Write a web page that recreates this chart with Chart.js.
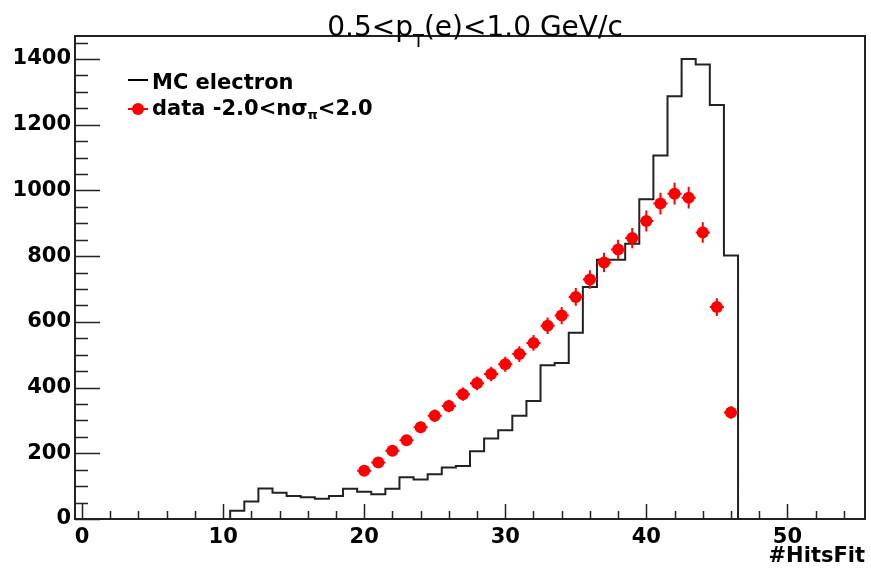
<!DOCTYPE html>
<html>
<head>
<meta charset="utf-8">
<title>nHitsFit</title>
<script src="https://cdn.jsdelivr.net/npm/chart.js@4.4.1/dist/chart.umd.min.js"></script>
<style>
  html, body { margin: 0; padding: 0; background: #fff; }
  canvas { display: block; }
</style>
</head>
<body>
<canvas id="hitsChart" width="871" height="570"></canvas>
<script>
// MC electron histogram, one value per bin (bins of width 1 centred on integers)
const mcFirstBin = 11;
const mcCounts = [25, 53, 93, 80, 70, 66, 62, 70, 92, 83, 75, 92, 127, 120, 136, 157, 161, 206,
                  245, 270, 314, 359, 468, 475, 567, 706, 789, 789, 838, 973, 1106, 1287, 1400, 1383, 1260, 802];

// data points -2.0 < n sigma_pi < 2.0
const dataHits = [20, 21, 22, 23, 24, 25, 26, 27, 28, 29, 30, 31, 32, 33, 34, 35, 36, 37, 38, 39, 40, 41, 42, 43, 44, 45, 46];
const dataCounts = [147, 172, 208, 240, 279, 314, 344, 380, 413, 441, 471, 502, 536, 588, 619, 676, 729,
                    781, 820, 855, 907, 960, 990, 978, 872, 645, 324];
const dataErrors = [13, 14, 15, 16, 18, 19, 19, 20, 21, 22, 23, 24, 24, 25, 26, 27, 28, 29, 30, 31, 32, 33, 33, 33, 31, 27, 19];

const xTicks = [0, 10, 20, 30, 40, 50];
const yTicks = [0, 200, 400, 600, 800, 1000, 1200, 1400];

const xMin = -0.5, xMax = 55.5, yMax = 1470;
const boldFont = { family: "'DejaVu Sans', sans-serif", size: 21, weight: 'bold' };

// step outline of the histogram, from bin edges
let mcSteps = [{ x: xMin, y: 0 }];
mcCounts.forEach((c, i) => {
    mcSteps.push({ x: mcFirstBin + i - 0.5, y: c });
});
mcSteps.push({ x: mcFirstBin + mcCounts.length - 0.5, y: 0 });
mcSteps.push({ x: xMax, y: 0 });

const dataPoints = dataHits.map((h, i) => ({ x: h, y: dataCounts[i] }));

// error bars: +-0.5 bin in x, stat error in y
const errorBars = {
    id: 'errorBars',
    afterDatasetsDraw(chart) {
        const ctx = chart.ctx;
        const xs = chart.scales.x, ys = chart.scales.y;
        ctx.save();
        ctx.strokeStyle = '#ff0000';
        ctx.lineWidth = 2;
        dataHits.forEach((h, i) => {
            const px = xs.getPixelForValue(h);
            const py = ys.getPixelForValue(dataCounts[i]);
            ctx.beginPath();
            ctx.moveTo(xs.getPixelForValue(h - 0.5), py);
            ctx.lineTo(xs.getPixelForValue(h + 0.5), py);
            ctx.moveTo(px, ys.getPixelForValue(dataCounts[i] - dataErrors[i]));
            ctx.lineTo(px, ys.getPixelForValue(dataCounts[i] + dataErrors[i]));
            ctx.stroke();
        });
        ctx.restore();
    }
};

// ROOT style frame with ticks drawn inside
const frameTicks = {
    id: 'frameTicks',
    afterDraw(chart) {
        const ctx = chart.ctx;
        const a = chart.chartArea;
        const xs = chart.scales.x, ys = chart.scales.y;
        ctx.save();
        ctx.strokeStyle = '#222';
        ctx.lineWidth = 2;
        ctx.strokeRect(a.left, a.top, a.right - a.left, a.bottom - a.top);
        ctx.lineWidth = 1.5;
        ctx.beginPath();
        for (let v = 0; v <= 54; v += 2) {
            const px = Math.round(xs.getPixelForValue(v)) + 0.5;
            const len = v % 10 === 0 ? 15 : 8;
            ctx.moveTo(px, a.bottom);
            ctx.lineTo(px, a.bottom - len);
        }
        for (let v = 0; v <= 1450; v += 50) {
            const py = Math.round(ys.getPixelForValue(v)) + 0.5;
            const len = v % 200 === 0 ? 25 : 13;
            ctx.moveTo(a.left, py);
            ctx.lineTo(a.left + len, py);
        }
        ctx.stroke();
        ctx.restore();
    }
};

// title and legend with sub-scripts
const texts = {
    id: 'texts',
    afterDraw(chart) {
        const ctx = chart.ctx;
        ctx.save();
        ctx.fillStyle = '#000';
        ctx.textBaseline = 'alphabetic';
        ctx.textAlign = 'left';

        // title
        const big = "28px 'DejaVu Sans', sans-serif";
        const small = "18px 'DejaVu Sans', sans-serif";
        const parts = [["0.5<p", big, 0], ["T", small, 11], ["(e)<1.0 GeV/c", big, 0]];
        let total = 0;
        parts.forEach(p => { ctx.font = p[1]; total += ctx.measureText(p[0]).width; });
        let x = 475 - total / 2;
        parts.forEach(p => {
            ctx.font = p[1];
            ctx.fillText(p[0], x, 36 + p[2]);
            x += ctx.measureText(p[0]).width;
        });

        // legend
        ctx.strokeStyle = '#000';
        ctx.lineWidth = 2;
        ctx.beginPath();
        ctx.moveTo(128, 80);
        ctx.lineTo(148, 80);
        ctx.stroke();
        ctx.font = "bold 21px 'DejaVu Sans', sans-serif";
        ctx.fillText('MC electron', 152, 89);

        ctx.strokeStyle = '#ff0000';
        ctx.fillStyle = '#ff0000';
        ctx.beginPath();
        ctx.moveTo(128, 109);
        ctx.lineTo(148, 109);
        ctx.stroke();
        ctx.beginPath();
        ctx.arc(138, 109, 6, 0, Math.PI * 2);
        ctx.fill();

        ctx.fillStyle = '#000';
        const lparts = [["data -2.0<n\u03c3", "bold 21px 'DejaVu Sans', sans-serif", 0],
                        ["\u03c0", "bold 13px 'DejaVu Sans', sans-serif", 4],
                        ["<2.0", "bold 21px 'DejaVu Sans', sans-serif", 0]];
        x = 152;
        lparts.forEach(p => {
            ctx.font = p[1];
            ctx.fillText(p[0], x, 115 + p[2]);
            x += ctx.measureText(p[0]).width;
        });
        ctx.restore();
    }
};

new Chart(document.getElementById('hitsChart').getContext('2d'), {
    type: 'scatter',
    data: {
        datasets: [
            {
                label: 'data -2.0<n\u03c3\u03c0<2.0',
                data: dataPoints,
                backgroundColor: '#ff0000',
                borderWidth: 0,
                pointRadius: 6,
                order: 1
            },
            {
                label: 'MC electron',
                type: 'line',
                data: mcSteps,
                stepped: 'before',
                borderColor: '#222',
                borderWidth: 2,
                pointRadius: 0,
                fill: false,
                order: 2
            }
        ]
    },
    options: {
        responsive: false,
        animation: false,
        layout: { padding: { left: 0, top: 36, right: 4, bottom: 0 } },
        plugins: {
            legend: { display: false },
            tooltip: { enabled: false },
            title: { display: false }
        },
        scales: {
            x: {
                type: 'linear',
                min: xMin,
                max: xMax,
                afterBuildTicks: s => { s.ticks = xTicks.map(v => ({ value: v })); },
                afterFit: s => { s.height = 51; },
                grid: { display: false, drawTicks: false },
                border: { display: false },
                ticks: { font: boldFont, color: '#000', padding: 6, maxRotation: 0, autoSkip: false,
                         callback: v => String(v) },
                title: {
                    display: true,
                    text: '#HitsFit',
                    align: 'end',
                    color: '#000',
                    font: boldFont,
                    padding: { top: 0, bottom: 1 }
                }
            },
            y: {
                type: 'linear',
                min: 0,
                max: yMax,
                afterBuildTicks: s => { s.ticks = yTicks.map(v => ({ value: v })); },
                afterFit: s => { s.width = 75; },
                grid: { display: false, drawTicks: false },
                border: { display: false },
                ticks: { font: boldFont, color: '#000', padding: 4, autoSkip: false,
                         callback: v => String(v) }
            }
        }
    },
    plugins: [errorBars, frameTicks, texts]
});
</script>
</body>
</html>
